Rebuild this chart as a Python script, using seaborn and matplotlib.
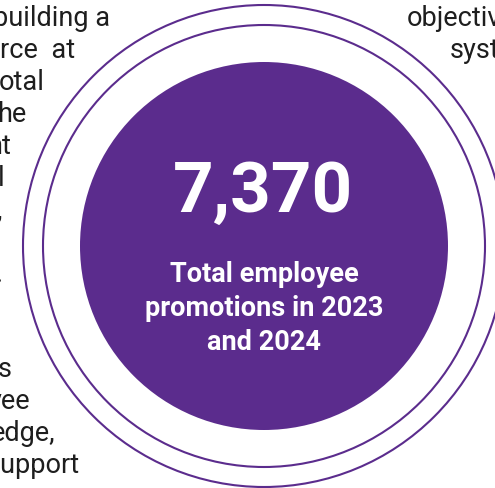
import matplotlib
matplotlib.use("Agg")
import matplotlib.pyplot as plt
from matplotlib import font_manager
from matplotlib.patches import Circle
import seaborn as sns

# Headline figure and its caption
total_promotions = 7370
caption_lines = ["Total employee", "promotions in 2023", "and 2024"]

# Body copy that wraps around the badge (left and right columns)
left_fragments = ["building a", "rce  at", "otal", "he", "nt", "l", ",", "",
                  ".", "", "", "s", "yee", "edge,", "support"]
right_fragments = ["objectiv", "syst"]

# Layout (pixel units, origin top-left)
W, H = 495, 489
center = (264, 247)
disk_radius = 184
ring_radii = [221, 241]
left_line_ends = [110, 75, 45, 26, 11, 4, 2.5, 0, 2.5, 0, 0, 12, 30, 55, 80]
right_line_starts = [407, 450]
first_baseline, line_gap = 26.5, 31.9

purple = "#5B2C8D"
ink = "#1E1E1E"


def has_font(name):
    try:
        font_manager.findfont(font_manager.FontProperties(family=name),
                              fallback_to_default=False)
        return True
    except ValueError:
        return False


body_font = "Roboto" if has_font("Roboto") else "DejaVu Sans"

sns.set_theme(style="white")
plt.rcParams["font.family"] = [body_font, "DejaVu Sans"]

fig = plt.figure(figsize=(W / 100, H / 100), dpi=100)
fig.patch.set_facecolor("white")
ax = fig.add_axes([0, 0, 1, 1])
ax.set_xlim(0, W)
ax.set_ylim(H, 0)
ax.axis("off")

# Badge: solid disk with two thin concentric rings
ax.add_patch(Circle(center, disk_radius, facecolor=purple, edgecolor="none"))
for r in ring_radii:
    ax.add_patch(Circle(center, r, facecolor="none", edgecolor=purple, lw=1.5))

ax.text(center[0] - 1, 212, f"{total_promotions:,}", ha="center", va="baseline",
        color="white", fontsize=51, fontweight="bold")

for i, line in enumerate(caption_lines):
    ax.text(center[0], 282 + i * 34, line, ha="center", va="baseline",
            color="white", fontsize=19.5, fontweight="bold")

for i, (frag, xe) in enumerate(zip(left_fragments, left_line_ends)):
    if frag:
        ax.text(xe, first_baseline + i * line_gap, frag, ha="right", va="baseline",
                color=ink, fontsize=19.5)

for i, (frag, xs) in enumerate(zip(right_fragments, right_line_starts)):
    ax.text(xs, first_baseline + i * line_gap, frag, ha="left", va="baseline",
            color=ink, fontsize=19.5)

sns.despine(ax=ax, left=True, bottom=True)
fig.savefig("out.png", dpi=100, facecolor="white")
